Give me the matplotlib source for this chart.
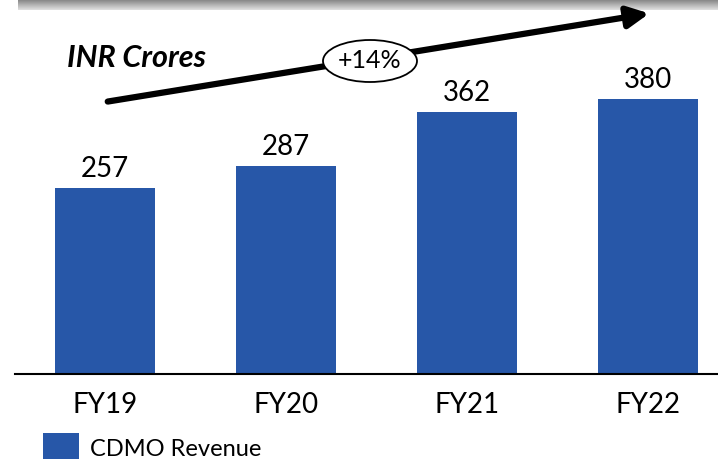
import numpy as np
import matplotlib
matplotlib.use("Agg")
import matplotlib.pyplot as plt
from matplotlib.patches import Ellipse, FancyArrowPatch

# ── data ──────────────────────────────────────────────────────────────────────
years = ["FY19", "FY20", "FY21", "FY22"]
revenue = [257, 287, 362, 380]
cagr_label = "+14%"
unit_label = "INR Crores"
series_name = "CDMO Revenue"

BAR_COLOR = "#2757a8"
plt.rcParams["font.family"] = ["Lato", "DejaVu Sans"]

fig = plt.figure(figsize=(7.18, 4.6), dpi=100)
W, H = 718, 460

def fx(px):
    return px / W

def fy(py):
    return 1 - py / H

# ── top gradient strip (slide header shadow) ─────────────────────────────────
strip = fig.add_axes([fx(18), fy(11), 1 - fx(18), 11 / H])
grad = np.linspace(0.5, 0.88, 50).reshape(-1, 1)
strip.imshow(grad, cmap="gray", aspect="auto", vmin=0, vmax=1)
strip.axis("off")

# ── bar chart ─────────────────────────────────────────────────────────────────
ax = fig.add_axes([fx(15), fy(375), 1 - fx(15), (375 - 20) / H])
x = np.arange(len(years))
bars = ax.bar(x, revenue, width=0.553, color=BAR_COLOR, label=series_name)
ax.set_xlim(-0.497, 3.387)
ax.set_ylim(0, 490.6)

for b, v in zip(bars, revenue):
    ax.annotate(f"{v}", (b.get_x() + b.get_width() / 2, v),
                xytext=(0, 5), textcoords="offset points",
                ha="center", va="bottom", fontsize=20, color="black")

ax.set_xticks(x)
ax.set_xticklabels(years, fontsize=20)
ax.tick_params(axis="x", length=0, pad=12)
ax.set_yticks([])
for s in ["top", "right", "left"]:
    ax.spines[s].set_visible(False)
ax.spines["bottom"].set_linewidth(1.5)
ax.patch.set_alpha(0)

# ── growth arrow and label ───────────────────────────────────────────────────
arrow = FancyArrowPatch((fx(105), fy(103)), (fx(652), fy(14)),
                        transform=fig.transFigure, arrowstyle="-|>",
                        mutation_scale=32, linewidth=4.5, color="black")
fig.patches.append(arrow)

ell = Ellipse((fx(370), fy(62)), 94 / W, 42 / H, transform=fig.transFigure,
              facecolor="white", edgecolor="black", linewidth=1.3, zorder=5)
fig.patches.append(ell)
fig.text(fx(370), fy(61), cagr_label, ha="center", va="center",
         fontsize=18, zorder=6)

fig.text(fx(67), fy(58), unit_label, ha="left", va="center",
         fontsize=22, fontweight="bold", fontstyle="italic")

# ── legend ────────────────────────────────────────────────────────────────────
fig.legend(handles=[bars], labels=[series_name], loc="center left",
           bbox_to_anchor=(fx(22), fy(448)), frameon=False, fontsize=17,
           handlelength=1.5, handleheight=1.5, handletextpad=0.5)

fig.savefig("out.png", dpi=100)
